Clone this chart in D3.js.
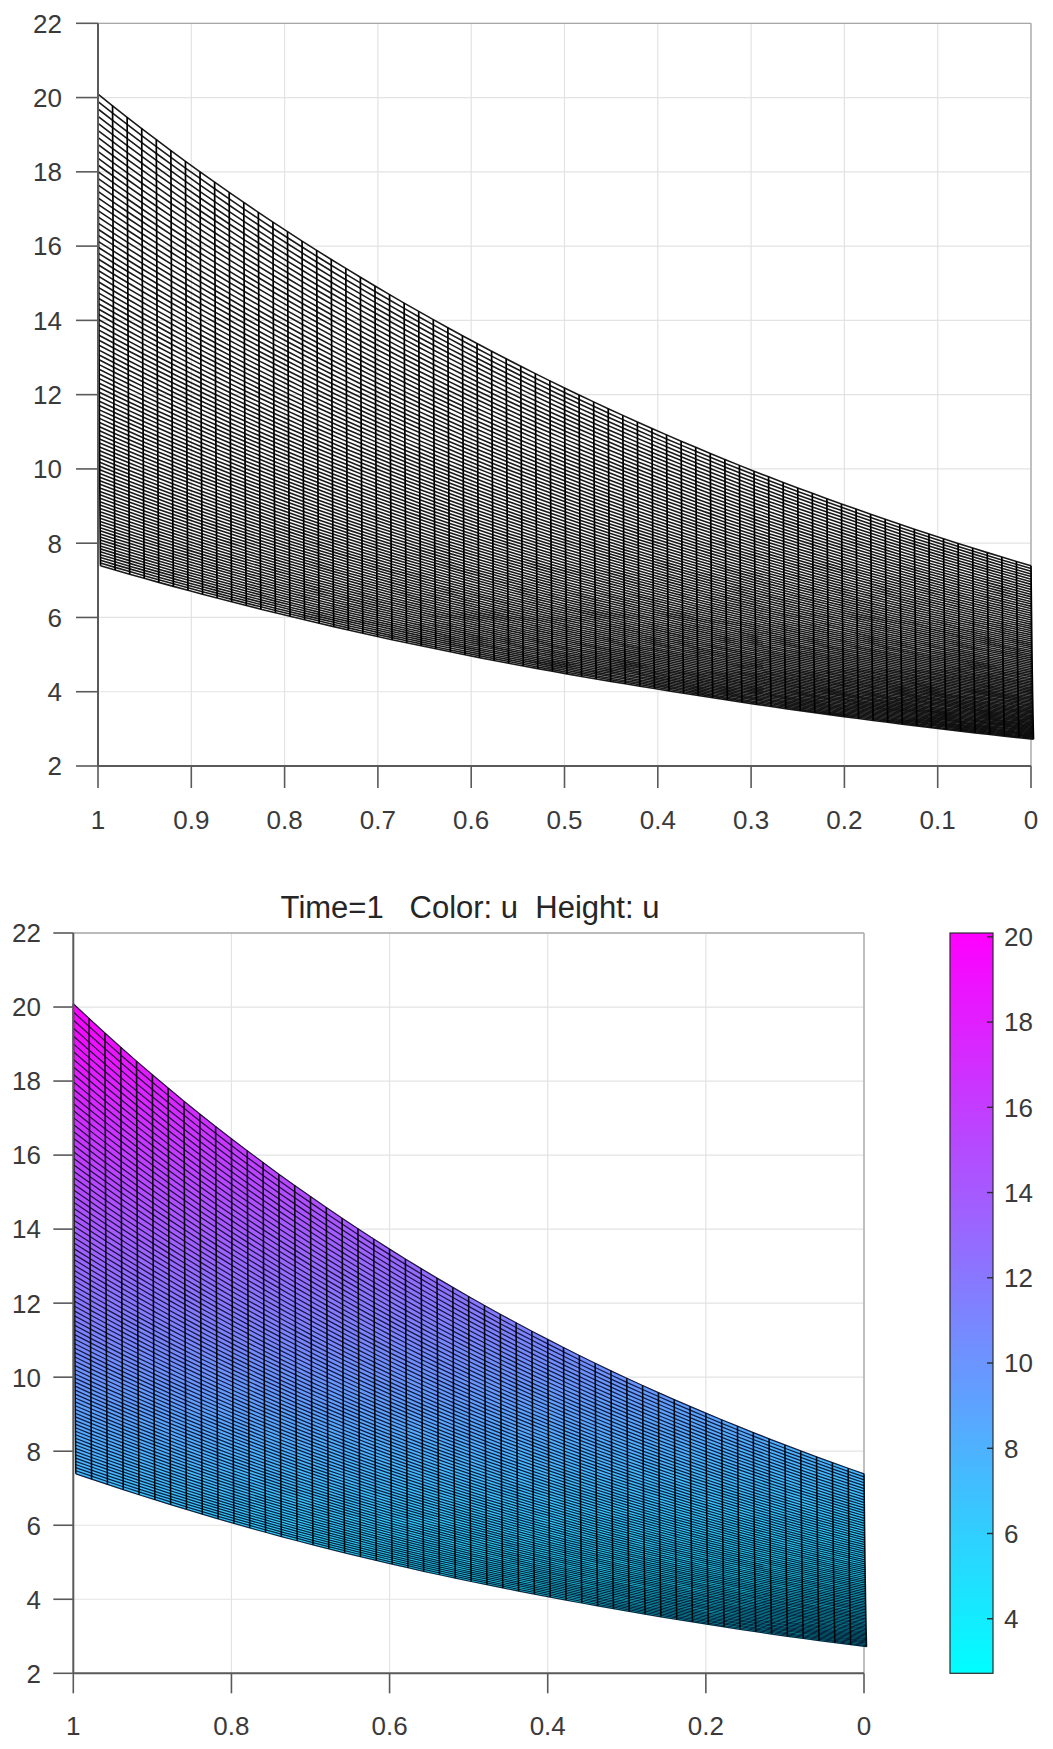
<!DOCTYPE html>
<html>
<head>
<meta charset="utf-8">
<script src="https://cdn.jsdelivr.net/npm/d3@7"></script>
<style>
  body { margin: 0; background: #fff; }
  text { font-family: 'Liberation Sans', Arial, sans-serif; fill: #3a3a3a; }
</style>
</head>
<body>
<div id="chart"></div>
<script>
// values
const sampleX = [1, 0.9, 0.8, 0.7, 0.6, 0.5, 0.4, 0.3, 0.2, 0.1, 0]
const topEdgeU = [20.09, 18.17, 16.44, 14.88, 13.46, 12.18, 11.02, 9.97, 9.03, 8.17, 7.39]
const bottomEdgeU = [7.39, 6.69, 6.05, 5.47, 4.95, 4.48, 4.06, 3.67, 3.32, 3.0, 2.72]

const xTicksTop = [1, 0.9, 0.8, 0.7, 0.6, 0.5, 0.4, 0.3, 0.2, 0.1, 0]
const xTicksBottom = [1, 0.8, 0.6, 0.4, 0.2, 0]
const uTicks = [2, 4, 6, 8, 10, 12, 14, 16, 18, 20, 22]
const colorTicks = [4, 6, 8, 10, 12, 14, 16, 18, 20]
const colorLimits = [2.72, 20.09]

const TITLE = 'Time=1   Color: u  Height: u'

// mesh resolution (counted on the picture)
const TOP_COLS = 64
const TOP_ROWS = 100
const BOT_COLS = 50
const BOT_ROWS = 90

const W = 1053
const H = 1749
const TICK_FONT = 26
const DEPTH_SHIFT = 2.5

const logTop = d3.scaleLinear().domain(sampleX).range(topEdgeU.map(Math.log))
const logBot = d3.scaleLinear().domain(sampleX).range(bottomEdgeU.map(Math.log))

// grid nodes of the surface, column by column
const buildMesh = (nCols, nRows) =>
  d3.range(nCols + 1).map((i) => {
    const x = 1 - i / nCols
    const lb = logBot(x)
    const lt = logTop(x)
    return d3.range(nRows + 1).map((j) => ({
      x,
      s: j / nRows,
      u: Math.exp(lb + ((lt - lb) * j) / nRows),
    }))
  })

const cool = (t) => d3.rgb(255 * t, 255 * (1 - t), 255).toString()

const svg = d3.select('#chart').append('svg').attr('width', W).attr('height', H)
svg.append('rect').attr('width', W).attr('height', H).attr('fill', '#ffffff')

const drawFrame = (g, x, y, xTicks) => {
  const [x0, x1] = x.range()
  const [y0, y1] = y.range()

  // grid
  g.append('g')
    .selectAll('line')
    .data(xTicks)
    .join('line')
    .attr('x1', (d) => x(d))
    .attr('x2', (d) => x(d))
    .attr('y1', y0)
    .attr('y2', y1)
    .attr('stroke', '#e3e3e3')
    .attr('stroke-width', 1.2)
  g.append('g')
    .selectAll('line')
    .data(uTicks)
    .join('line')
    .attr('x1', x0)
    .attr('x2', x1)
    .attr('y1', (d) => y(d))
    .attr('y2', (d) => y(d))
    .attr('stroke', '#e3e3e3')
    .attr('stroke-width', 1.2)

  // far edges
  g.append('line')
    .attr('x1', x0).attr('x2', x1).attr('y1', y1).attr('y2', y1)
    .attr('stroke', '#a8a8a8').attr('stroke-width', 1.3)
  g.append('line')
    .attr('x1', x1).attr('x2', x1).attr('y1', y0).attr('y2', y1)
    .attr('stroke', '#a8a8a8').attr('stroke-width', 1.3)
}

const drawAxes = (g, x, y, xTicks, opts) => {
  const [x0, x1] = x.range()
  const [y0, y1] = y.range()
  const axisColor = '#5a5a5a'

  g.append('line')
    .attr('x1', x0).attr('x2', x0).attr('y1', y0).attr('y2', y1)
    .attr('stroke', axisColor).attr('stroke-width', 2)
  g.append('line')
    .attr('x1', x0).attr('x2', x1).attr('y1', y0).attr('y2', y0)
    .attr('stroke', axisColor).attr('stroke-width', 2)

  const yt = g.append('g').selectAll('g').data(uTicks).join('g')
    .attr('transform', (d) => `translate(0 ${y(d)})`)
  yt.append('line')
    .attr('x1', x0 - opts.tick).attr('x2', x0)
    .attr('stroke', axisColor).attr('stroke-width', 1.6)
  yt.append('text')
    .attr('x', opts.yLabelRight)
    .attr('dy', '0.36em')
    .attr('text-anchor', 'end')
    .attr('font-size', TICK_FONT)
    .text((d) => d)

  const xt = g.append('g').selectAll('g').data(xTicks).join('g')
    .attr('transform', (d) => `translate(${x(d)} 0)`)
  xt.append('line')
    .attr('y1', y0).attr('y2', y0 + opts.tick)
    .attr('stroke', axisColor).attr('stroke-width', 1.6)
  xt.append('text')
    .attr('y', opts.xLabelBase)
    .attr('text-anchor', 'middle')
    .attr('font-size', TICK_FONT)
    .text((d) => d)
}

const rowPath = (x, y) =>
  d3.line().x((n) => x(n.x) + (1 - n.s) * DEPTH_SHIFT).y((n) => y(n.u))

// ---------- top panel: wire mesh ----------
const xTop = d3.scaleLinear().domain([1, 0]).range([98, 1031])
const yTop = d3.scaleLinear().domain([2, 22]).range([766, 23.3])
const gTop = svg.append('g')
drawFrame(gTop, xTop, yTop, xTicksTop)

const meshTop = buildMesh(TOP_COLS, TOP_ROWS)
const lineTop = rowPath(xTop, yTop)

gTop.append('g')
  .selectAll('path')
  .data(d3.range(TOP_ROWS + 1))
  .join('path')
  .attr('d', (j) => lineTop(meshTop.map((col) => col[j])))
  .attr('fill', 'none')
  .attr('stroke', '#000')
  .attr('stroke-opacity', 0.9)
  .attr('stroke-width', 1.6)

gTop.append('g')
  .selectAll('path')
  .data(meshTop)
  .join('path')
  .attr('d', (col) => lineTop(col))
  .attr('fill', 'none')
  .attr('stroke', '#000')
  .attr('stroke-width', 1.7)

drawAxes(gTop, xTop, yTop, xTicksTop, { tick: 22, yLabelRight: 62, xLabelBase: 829 })

// ---------- bottom panel: coloured surface ----------
const xBot = d3.scaleLinear().domain([1, 0]).range([73.3, 864])
const yBot = d3.scaleLinear().domain([2, 22]).range([1673.3, 933])
const colorScale = d3.scaleLinear().domain(colorLimits).range([0, 1]).clamp(true)
const gBot = svg.append('g')
drawFrame(gBot, xBot, yBot, xTicksBottom)

const meshBot = buildMesh(BOT_COLS, BOT_ROWS)
const lineBot = rowPath(xBot, yBot)

const cells = []
for (let i = 0; i < BOT_COLS; i++) {
  for (let j = 0; j < BOT_ROWS; j++) {
    const q = [meshBot[i][j], meshBot[i + 1][j], meshBot[i + 1][j + 1], meshBot[i][j + 1]]
    cells.push({ q, u: d3.mean(q, (n) => n.u) })
  }
}
gBot.append('g')
  .selectAll('path')
  .data(cells)
  .join('path')
  .attr('d', (c) => lineBot(c.q) + 'Z')
  .attr('fill', (c) => cool(colorScale(c.u)))
  .attr('stroke', (c) => cool(colorScale(c.u)))
  .attr('stroke-width', 0.6)

gBot.append('g')
  .selectAll('path')
  .data(d3.range(BOT_ROWS + 1))
  .join('path')
  .attr('d', (j) => lineBot(meshBot.map((col) => col[j])))
  .attr('fill', 'none')
  .attr('stroke', '#03031f')
  .attr('stroke-opacity', 0.85)
  .attr('stroke-width', 1.25)

gBot.append('g')
  .selectAll('path')
  .data(meshBot)
  .join('path')
  .attr('d', (col) => lineBot(col))
  .attr('fill', 'none')
  .attr('stroke', '#000')
  .attr('stroke-opacity', 0.9)
  .attr('stroke-width', 1.6)

drawAxes(gBot, xBot, yBot, xTicksBottom, { tick: 20, yLabelRight: 41, xLabelBase: 1735 })

svg.append('text')
  .attr('x', 470)
  .attr('y', 918)
  .attr('text-anchor', 'middle')
  .attr('font-size', 31)
  .style('fill', '#262626')
  .style('white-space', 'pre')
  .attr('xml:space', 'preserve')
  .text(TITLE)

// ---------- colour bar ----------
const cbX = 950
const cbW = 43
const yCb = d3.scaleLinear().domain(colorLimits).range([1673.3, 933])
const defs = svg.append('defs')
const grad = defs.append('linearGradient')
  .attr('id', 'coolGrad')
  .attr('x1', 0).attr('y1', 1).attr('x2', 0).attr('y2', 0)
grad.selectAll('stop')
  .data([0, 0.25, 0.5, 0.75, 1])
  .join('stop')
  .attr('offset', (d) => d)
  .attr('stop-color', (d) => cool(d))

const cb = svg.append('g')
cb.append('rect')
  .attr('x', cbX)
  .attr('y', yCb(colorLimits[1]))
  .attr('width', cbW)
  .attr('height', yCb(colorLimits[0]) - yCb(colorLimits[1]))
  .attr('fill', 'url(#coolGrad)')
  .attr('stroke', '#2b2b2b')
  .attr('stroke-width', 1.2)

const cbt = cb.append('g').selectAll('g').data(colorTicks).join('g')
  .attr('transform', (d) => `translate(0 ${yCb(d)})`)
cbt.append('line')
  .attr('x1', cbX + cbW - 6).attr('x2', cbX + cbW)
  .attr('stroke', '#2b2b2b').attr('stroke-width', 1.4)
cbt.append('text')
  .attr('x', cbX + cbW + 11)
  .attr('dy', '0.36em')
  .attr('font-size', TICK_FONT)
  .text((d) => d)
</script>
</body>
</html>
